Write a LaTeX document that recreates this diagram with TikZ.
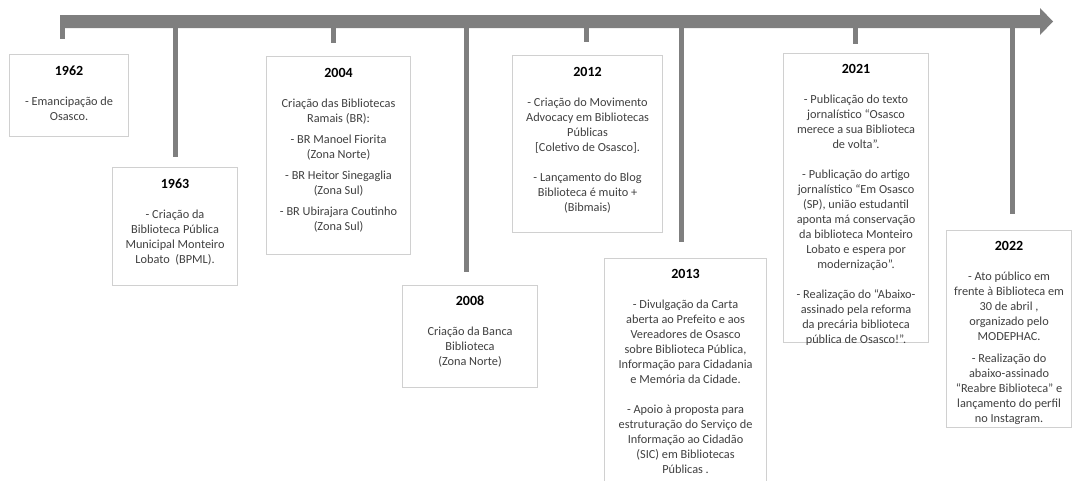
\documentclass[tikz,border=0pt]{standalone}
\usepackage{fontspec}
\setmainfont{Carlito}
\definecolor{barc}{HTML}{7F7F7F}
\definecolor{bordc}{HTML}{D0D0D0}
\definecolor{txtc}{HTML}{404040}
\newcommand\yrtitle[1]{{\color{black}\bfseries\fontsize{14}{15}\selectfont #1}}
\begin{document}
\begin{tikzpicture}[x=1pt,y=-1pt,
 box/.style={draw=bordc, line width=1.1pt, fill=white, inner sep=0pt, anchor=north west},
 body/.style={align=center, inner sep=0pt, anchor=north, text=txtc, font=\fontsize{12.3}{15}\selectfont},
 tickline/.style={draw=barc, line width=5pt},
]
\useasboundingbox (0,0) rectangle (1073,480);

% main arrow
\fill[barc] (60,15) -- (1040,15) -- (1040,8) -- (1053,21.5) -- (1040,35) -- (1040,28) -- (60,28) -- cycle;

% tick coordinates
\coordinate (a1962) at (62.5,22); \coordinate (e1962) at (62.5,39);
\coordinate (a1963) at (175.5,22); \coordinate (e1963) at (175.5,157);
\coordinate (a2004) at (333,22); \coordinate (e2004) at (333,43);
\coordinate (a2008) at (466,22); \coordinate (e2008) at (466,272);
\coordinate (a2012) at (586,22); \coordinate (e2012) at (586,42);
\coordinate (a2013) at (681,22); \coordinate (e2013) at (681,242);
\coordinate (a2021) at (855,22); \coordinate (e2021) at (855,44);
\coordinate (a2022) at (1012,22); \coordinate (e2022) at (1012,214);
\foreach \y in {1962,1963,2004,2008,2012,2013,2021,2022}
  \draw[tickline] (a\y) -- (e\y);

% boxes
\node[box, minimum width=119, minimum height=82] (b1962) at (9,54) {};
\node[box, minimum width=125, minimum height=118] (b1963) at (112,167) {};
\node[box, minimum width=144, minimum height=198] (b2004) at (266,56) {};
\node[box, minimum width=135, minimum height=102] (b2008) at (402,285) {};
\node[box, minimum width=150, minimum height=177] (b2012) at (512,55) {};
\node[box, minimum width=162, minimum height=250] (b2013) at (604,258) {};
\node[box, minimum width=145, minimum height=289] (b2021) at (783,53) {};
\node[box, minimum width=125, minimum height=197] (b2022) at (946,230) {};

% texts
\node[body] (x1962) at ([yshift=-12]b1962.north) {\yrtitle{1962}\\[15pt]
- Emancipação de\\ Osasco.};
\node[body] (x1963) at ([yshift=-12]b1963.north) {\yrtitle{1963}\\[15pt]
- Criação da\\ Biblioteca Pública\\ Municipal Monteiro\\ Lobato~ (BPML).};
\node[body] (x2004) at ([yshift=-12]b2004.north) {\yrtitle{2004}\\[15pt]
Criação das Bibliotecas\\ Ramais (BR):\\[6pt]
- BR Manoel Fiorita\\ (Zona Norte)\\[6pt]
- BR Heitor Sinegaglia\\ (Zona Sul)\\[6pt]
- BR Ubirajara Coutinho\\ (Zona Sul)};
\node[body] (x2008) at ([yshift=-11]b2008.north) {\yrtitle{2008}\\[15pt]
Criação da Banca\\ Biblioteca\\ (Zona Norte)};
\node[body] (x2012) at ([yshift=-12]b2012.north) {\yrtitle{2012}\\[15pt]
- Criação do Movimento\\ Advocacy em Bibliotecas\\ Públicas\\ {[}Coletivo de Osasco{]}.\\[15pt]
- Lançamento do Blog\\ Biblioteca é muito +\\ (Bibmais)};
\node[body] (x2013) at ([yshift=-11]b2013.north) {\yrtitle{2013}\\[15pt]
- Divulgação da Carta\\ aberta ao Prefeito e aos\\ Vereadores de Osasco\\ sobre Biblioteca Pública,\\ Informação para Cidadania\\ e Memória da Cidade.\\[15pt]
- Apoio à proposta para\\ estruturação do Serviço de\\ Informação ao Cidadão\\ (SIC) em Bibliotecas\\ Públicas .};
\node[body] (x2021) at ([yshift=-11]b2021.north) {\yrtitle{2021}\\[15pt]
- Publicação do texto\\ jornalístico “Osasco\\ merece a sua Biblioteca\\ de volta”.\\[15pt]
- Publicação do artigo\\ jornalístico “Em Osasco\\ (SP), união estudantil\\ aponta má conservação\\ da biblioteca Monteiro\\ Lobato e espera por\\ modernização”.\\[15pt]
- Realização do “Abaixo-\\ assinado pela reforma\\ da precária biblioteca\\ pública de Osasco!”.};
\node[body] (x2022) at ([yshift=-11]b2022.north) {\yrtitle{2022}\\[15pt]
- Ato público em\\ frente à Biblioteca em\\ 30 de abril ,\\ organizado pelo\\ MODEPHAC.\\[7pt]
- Realização do\\ abaixo-assinado\\ “Reabre Biblioteca” e\\ lançamento do perfil\\ no Instagram.};
\end{tikzpicture}
\end{document}
